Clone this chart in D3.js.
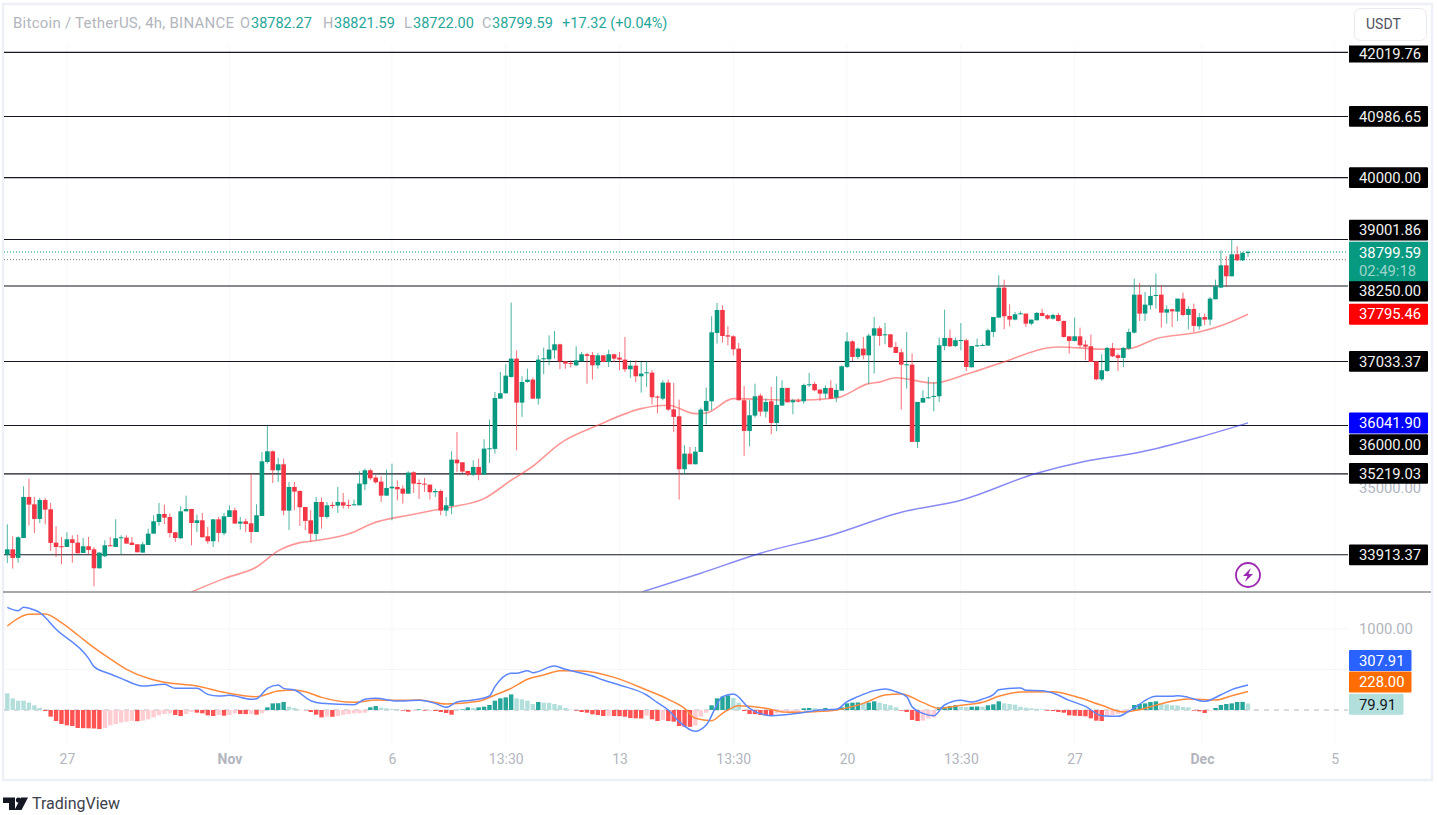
<!DOCTYPE html>
<html><head><meta charset="utf-8">
<script src="https://cdnjs.cloudflare.com/ajax/libs/d3/7.8.5/d3.min.js"></script>
<style>html,body{margin:0;padding:0;background:#fff;overflow:hidden}svg{display:block;font-family:Roboto,"Liberation Sans",sans-serif}</style>
</head><body><svg id="c" width="1438" height="815"></svg>
<script>
const opens=[33916,34002,33863,34185,34847,34728,34492,34798,34648,34110,
34051,34040,34164,34110,33943,34051,34002,33696,33890,34067,
34040,34180,34191,34110,34083,33949,34072,34255,34443,34572,
34524,34277,34180,34615,34653,34427,34470,34212,34132,34486,
34261,34524,34632,34417,34454,34422,34282,34540,35411,35583,
35277,35374,34626,35008,34943,34685,34470,34250,34766,34524,
34718,34707,34761,34718,34712,34712,35051,35277,35159,35094,
34868,34986,35008,34981,34900,35245,35073,35062,35046,34922,
34943,34626,34701,35449,35406,35267,35208,35331,35208,35622,
35622,36433,36520,36783,37079,36369,36702,36740,36433,37073,
37068,37213,37310,37036,37009,36971,37036,37149,37138,36971,
37132,37025,37149,37095,37063,36907,36966,36794,36848,36853,
36466,36433,36692,36261,36148,35294,35546,35374,35573,36235,
36390,37493,37864,37455,37439,37240,36407,35912,36159,36482,
36224,36390,36041,36321,36606,36374,36401,36390,36654,36670,
36579,36514,36606,36450,36563,36944,37358,37106,37240,37132,
37450,37568,37460,37471,37267,37181,36977,36982,35735,36369,
36439,36460,36471,37283,37412,37283,37370,37375,36939,37278,
37289,37289,37509,37740,38224,37767,37708,37799,37805,37643,
37697,37816,37778,37724,37783,37686,37439,37364,37439,37305,
37278,37036,36745,36880,37246,37133,37090,37240,37498,38111,
37805,37939,38095,38111,37821,37875,37837,38047,37783,37880,
37600,37751,37708,38036,38224,38584,38407,38762,38665,38782.27];
const closes=[34002,33863,34196,34847,34723,34492,34798,34642,34105,34040,
34040,34164,34105,33938,34051,33992,33696,33949,34067,34051,
34180,34196,34094,34072,33954,34083,34255,34454,34572,34513,
34266,34185,34615,34653,34427,34470,34196,34132,34486,34266,
34535,34632,34417,34449,34411,34282,34551,35422,35583,35277,
35374,34626,35008,34933,34680,34460,34255,34766,34524,34712,
34701,34766,34707,34707,34728,35062,35277,35148,35083,34868,
34992,35013,34970,34900,35239,35062,35056,35051,34922,34943,
34626,34712,35449,35390,35256,35208,35331,35208,35627,35632,
36444,36520,36804,37079,36369,36702,36740,36433,37063,37084,
37224,37310,37036,36998,36993,37052,37149,37122,36971,37132,
37025,37149,37079,37063,36907,36966,36794,36837,36858,36455,
36450,36692,36256,36138,35294,35546,35374,35579,36256,36396,
37503,37864,37444,37434,37229,36407,35912,36165,36471,36224,
36380,36041,36331,36606,36374,36407,36385,36654,36665,36568,
36514,36606,36433,36573,36955,37358,37106,37240,37132,37450,
37568,37444,37471,37262,37170,36982,36987,35735,36380,36444,
36455,36477,37294,37412,37278,37375,37380,36944,37283,37294,
37299,37536,37751,38224,37762,37708,37794,37810,37643,37708,
37816,37767,37724,37783,37686,37428,37364,37439,37294,37272,
37025,36745,36891,37251,37116,37090,37251,37509,38111,37805,
37950,38090,38106,37821,37875,37842,38047,37783,37880,37606,
37746,37708,38047,38246,38584,38407,38762,38665,38783,38799.59];
const highs=[34406,34212,34212,35019,35142,34847,34831,34831,34750,34373,
34201,34277,34228,34239,34185,34201,34040,33949,34148,34201,
34486,34228,34228,34201,34083,34121,34336,34551,34750,34723,
34578,34277,34696,34868,34653,34562,34589,34363,34486,34524,
34589,34712,34675,34524,34497,35223,34728,35573,36003,35599,
35481,35465,35089,35089,34954,34685,34632,34847,34836,34766,
34766,35008,34911,34804,34804,35261,35304,35304,35196,35180,
35288,35384,35116,35035,35261,35261,35132,35153,35046,34981,
34965,34847,35583,35895,35406,35267,35439,35466,35777,36095,
36541,36864,36987,37982,37213,36794,36917,36772,37132,37256,
37455,37525,37321,37041,37052,37278,37186,37170,37186,37170,
37132,37224,37159,37186,37428,37052,37052,37025,37036,36891,
36487,36729,36740,36686,36417,35681,35654,35654,36288,36611,
37762,37977,37939,37600,37455,37331,36638,36407,36675,36514,
36433,36622,36794,36729,36606,36433,36433,36675,36848,36702,
36579,36649,36729,36675,36971,37503,37374,37256,37428,37482,
37751,37600,37654,37471,37347,37240,37509,37160,36380,36568,
36783,36702,37418,37869,37547,37418,37654,37401,37283,37401,
37321,37563,37751,38423,38353,37955,37832,37842,37805,37708,
37832,37885,37794,37805,37816,37697,37439,37740,37579,37375,
37466,37041,37149,37267,37332,37160,37267,37563,38369,38299,
38154,38246,38450,38262,37939,37885,38047,38144,37923,37966,
37816,37805,38074,38353,38826,38730,38998,38891,38800,38821.59];
const lows=[33782,33691,33787,34185,34390,34266,34427,34406,33976,33879,
33761,34040,33787,33938,33943,33922,33406,33691,33879,34051,
34040,33916,34094,34072,33954,33943,34072,34255,34384,34406,
34191,34121,34169,34615,34067,34282,34196,34094,34040,34121,
34228,34524,34417,34320,34282,34105,34282,34540,35384,35073,
35089,34551,34314,34632,34379,34309,34121,34148,34336,34497,
34658,34589,34658,34658,34707,34712,34954,35116,35062,34766,
34868,34470,34793,34739,34900,34911,34814,34927,34804,34847,
34551,34535,34567,35250,35234,35181,35181,35116,35208,35396,
35546,36433,36514,36772,35600,36138,36690,36433,36337,36826,
36971,37079,36907,36917,36934,36955,37036,36675,36740,36917,
37025,36944,37025,36891,36864,36767,36702,36530,36622,36337,
36192,36407,36235,35896,34804,35213,35374,35374,35573,36014,
36245,37321,37337,37294,37132,36407,35509,35665,36127,36148,
36127,35858,35907,36321,36374,36181,36374,36353,36622,36552,
36396,36433,36433,36380,36563,36928,37041,37068,37068,36675,
36837,37288,37310,37251,37170,36256,36595,35735,35638,36369,
36434,36229,36380,37213,37267,37267,37213,36880,36934,37267,
37289,37289,37428,37740,37552,37600,37697,37794,37590,37617,
37697,37762,37708,37708,37676,37418,37160,37358,37256,37052,
37025,36729,36718,36864,37106,36880,36944,37224,37482,37686,
37686,37869,37885,37579,37643,37590,37686,37762,37552,37509,
37547,37617,37617,38036,38224,38235,38407,38654,38654,38722];

const maRedIdx=[34,40,46,50,54,56,64,67,75,78,82,88,93,97,102,109,117,122,127,129,134,145,153,159,161,164,171,177,183,194,203,207,212,220,225,229];
const maRedVal=[33314,33529,33717,33976,34110,34132,34282,34406,34567,34621,34686,34820,35116,35342,35708,36003,36272,36326,36192,36202,36433,36407,36444,36675,36700,36770,36686,36826,36998,37267,37229,37240,37401,37509,37643,37795.46];
const maBlueIdx=[117,128,139,152,165,176,190,199,209,220,229];
const maBlueVal=[33310,33616,33939,34229,34600,34794,35229,35423,35568,35810,36041.9];

const levels=[42019.76,40986.65,40000,39001.86,38250,37033.37,36000,35219.03,33913.37];
const lastPrice=38799.59, prePrice=38676, timer="02:49:18";
const priceTicks=[35000];

const histVal=[206,144,115,115,91,58,25,-12,-82,-136,-173,-189,-198,-222,-224,-226,-228,-235,-222,-189,-173,-156,-144,-134,-138,-132,-115,-91,-66,-49,-41,-62,-74,-49,-25,-33,-41,-66,-74,-62,-70,-62,-41,-49,-51,-49,-58,-41,33,82,84,99,41,25,4,-2,-25,-58,-91,-80,-84,-74,-60,-50,-43,-41,-33,33,49,29,21,12,8,-8,-21,-8,8,-8,-8,-12,-25,-37,-58,-4,8,33,25,33,
41,62,115,144,156,193,144,132,115,74,99,91,89,74,58,25,4,-8,-25,-33,-53,-62,-74,-72,-74,-76,-82,-99,-103,-105,-70,-115,-136,-123,-136,-144,-198,-206,-208,-193,-82,-33,58,144,165,181,148,91,-12,-49,-51,-62,-66,-74,-41,-37,-33,-29,-25,21,25,23,16,25,16,12,33,82,91,93,82,91,107,91,74,58,33,-8,-25,-123,-136,-132,-103,-91,33,35,49,58,
41,37,41,43,41,58,70,107,82,74,66,41,29,21,16,8,-8,-12,-25,-33,-66,-70,-74,-78,-103,-132,-136,-70,-62,-49,-33,-16,62,74,82,99,107,74,70,58,56,37,33,-8,-16,-37,-8,25,62,74,82,99,100,79.91];
const macdIdx=[0,2,3,5,6,9,15,16,19,21,25,29,31,35,37,39,41,45,46,48,50,51,53,56,58,64,66,68,72,76,79,81,83,86,89,90,93,94,96,97,101,103,108,110,113,118,120,122,124,127,129,132,134,137,141,146,150,153,155,157,160,162,164,166,167,169,171,173,176,178,180,182,183,187,188,191,193,196,199,202,205,207,212,215,216,218,221,224,226,229];
const macdVal=[1267,1226,1267,1235,1202,996,638,535,444,391,296,317,267,267,193,173,181,132,140,267,309,267,247,115,82,66,132,144,111,119,82,33,99,123,173,288,453,453,486,461,543,502,420,370,309,185,91,0,-144,-263,-185,165,198,21,-70,-41,0,8,103,165,239,259,226,165,41,-41,-70,62,119,99,136,189,251,272,243,239,210,119,45,-70,-78,-16,169,169,177,156,107,189,251,307.91];
const signalIdx=[0,2,4,7,10,13,16,19,22,26,29,35,40,46,50,53,55,58,64,68,72,76,81,87,90,93,96,99,102,106,112,118,122,125,127,130,132,135,140,144,149,153,158,162,165,169,172,176,180,183,187,193,197,202,206,209,213,218,223,226,229];
const signalVal=[1037,1132,1181,1185,1078,926,770,630,502,391,342,296,218,165,235,247,226,156,95,123,119,123,74,107,185,267,379,432,486,481,403,247,132,21,-103,-132,-41,53,21,-29,-21,0,82,185,198,91,21,58,95,169,222,226,169,58,-25,4,78,136,123,177,228];
const macdTicks=[1000];
const macdGrid=[1000,500];
const macdLast=307.91, signalLast=228, histLast=79.91;

const timeIdx=[11,41,71,92,113,134,155,176,197,220.5,245];
const timeLabels=["27","Nov","6","13:30","13","13:30","20","13:30","27","Dec","5"];
const timeBold=["Nov","Dec"];

const upCol="#089981",dnCol="#f23645";
const svg=d3.select("#c");
const n=opens.length;
const x=d3.scaleLinear().domain([0,n-1]).range([7.3,1248]);
const y=d3.scaleLinear().domain([42019.76,33913.37]).range([52.4,554.8]);
const yM=d3.scaleLinear().domain([1000,0]).range([629,710]);

svg.append("rect").attr("x",3).attr("y",4).attr("width",1429).attr("height",776).attr("fill","#fff").attr("stroke","#eef0f7").attr("stroke-width",2.5);

const gridV=svg.append("g").attr("stroke","#f7f8fb").attr("stroke-width",1);
gridV.selectAll("line").data(timeIdx).join("line").attr("x1",d=>x(d)).attr("x2",d=>x(d)).attr("y1",44).attr("y2",745);
svg.append("g").attr("stroke","#f5f6fa").selectAll("line").data(macdGrid).join("line").attr("x1",4).attr("x2",1348).attr("y1",d=>yM(d)).attr("y2",d=>yM(d));

svg.append("clipPath").attr("id","pane").append("rect").attr("x",4).attr("y",44).attr("width",1344).attr("height",548);

const axP=d3.axisRight(y).tickValues(priceTicks).tickSize(0).tickPadding(0).tickFormat(d3.format(".2f"));
const gP=svg.append("g").attr("transform","translate(1359,0)").call(axP);
const axM=d3.axisRight(yM).tickValues(macdTicks).tickSize(0).tickPadding(0).tickFormat(d3.format(".2f"));
const gM=svg.append("g").attr("transform","translate(1359,0)").call(axM);
[gP,gM].forEach(g=>{g.select(".domain").remove();g.selectAll("text").attr("fill","#b2b5be").attr("font-size",14.8).attr("font-family","Roboto");});
const axT=d3.axisBottom(x).tickValues(timeIdx).tickSize(0).tickPadding(0).tickFormat((d,i)=>timeLabels[i]);
const gT=svg.append("g").attr("transform","translate(0,754)").call(axT);
gT.select(".domain").remove();
gT.selectAll("text").attr("fill","#b2b5be").attr("font-size",14).attr("font-family","Roboto").attr("font-weight",(d,i)=>timeBold.includes(timeLabels[i])?700:400);

const pane=svg.append("g").attr("clip-path","url(#pane)");
pane.append("g").selectAll("line").data(levels).join("line").attr("x1",4).attr("x2",1349).attr("y1",d=>y(d)).attr("y2",d=>y(d)).attr("stroke","#131722").attr("stroke-width",1.1);
[[lastPrice,"#089981"],[prePrice,"#787b86"]].forEach(([p,c])=>pane.append("line").attr("x1",4).attr("x2",1349).attr("y1",y(p)).attr("y2",y(p)).attr("stroke",c).attr("stroke-width",1).attr("stroke-dasharray","1 2"));

const line=(sc,idx,vals)=>d3.line().x(i=>x(idx[i])).y(i=>sc(vals[i])).curve(d3.curveMonotoneX)(d3.range(idx.length));
pane.append("path").attr("d",line(y,maRedIdx,maRedVal)).attr("fill","none").attr("stroke","#ff5252").attr("stroke-opacity",.6).attr("stroke-width",1.6);
pane.append("path").attr("d",line(y,maBlueIdx,maBlueVal)).attr("fill","none").attr("stroke","#3a3af0").attr("stroke-opacity",.6).attr("stroke-width",1.5);

const col=i=>closes[i]>=opens[i]?upCol:dnCol;
pane.append("g").selectAll("line").data(d3.range(n)).join("line")
 .attr("x1",i=>x(i)).attr("x2",i=>x(i)).attr("y1",i=>y(highs[i])).attr("y2",i=>y(lows[i]))
 .attr("stroke",col).attr("stroke-width",1).attr("stroke-opacity",.72);
pane.append("g").selectAll("rect").data(d3.range(n)).join("rect")
 .attr("x",i=>x(i)-2.3).attr("width",4.6)
 .attr("y",i=>y(Math.max(opens[i],closes[i])))
 .attr("height",i=>Math.max(1,Math.abs(y(opens[i])-y(closes[i]))))
 .attr("fill",col);

svg.append("line").attr("x1",3).attr("x2",1431).attr("y1",592).attr("y2",592).attr("stroke","#8b8d92").attr("stroke-width",1.4);

svg.append("line").attr("x1",4).attr("x2",1348).attr("y1",yM(0)).attr("y2",yM(0)).attr("stroke","#b2b5be").attr("stroke-dasharray","5 5");
const hCol=i=>{const h=histVal[i],p=i?histVal[i-1]:h;return h>=0?(h>p?"#26a69a":"#b2dfdb"):(h<p?"#ff5252":"#ffcdd2");};
svg.append("g").selectAll("rect").data(d3.range(histVal.length)).join("rect")
 .attr("x",i=>x(i)-2.2).attr("width",4.4)
 .attr("y",i=>Math.min(yM(0),yM(histVal[i])))
 .attr("height",i=>Math.abs(yM(histVal[i])-yM(0)))
 .attr("fill",hCol);
svg.append("path").attr("d",line(yM,signalIdx,signalVal)).attr("fill","none").attr("stroke","#ff8a3c").attr("stroke-width",1.5);
svg.append("path").attr("d",line(yM,macdIdx,macdVal)).attr("fill","none").attr("stroke","#5b86ff").attr("stroke-width",1.5);

function box(cy,h,w,fill,txt,col){
 svg.append("rect").attr("x",1349).attr("y",cy-h/2).attr("width",w).attr("height",h).attr("fill",fill).attr("rx",1);
 svg.append("text").attr("x",1359).attr("y",cy+5.2).attr("font-size",14.8).attr("fill",col).text(txt);
}
const nudge={"39001.86":-9.4,"38250":5,"36000":19.2,"35219.03":-.5};
levels.forEach(l=>{
 const cy=y(l)+(nudge[String(l)]||0);
 if(l===42019.76){
  svg.append("rect").attr("x",1349).attr("y",45.5).attr("width",79).attr("height",17).attr("fill","#000");
  svg.append("text").attr("x",1359).attr("y",59).attr("font-size",14.8).attr("fill","#f2f2f2").text(d3.format(".2f")(l));
 } else box(cy,20.8,79,"#000",d3.format(".2f")(l),"#f2f2f2");
});
box(y(37795.46),21,79,"#ff0000","37795.46","#fff");
box(y(36041.9),21,79,"#0000ff","36041.90","#fff");
svg.append("rect").attr("x",1349).attr("y",241.7).attr("width",79).attr("height",39.5).attr("fill",upCol);
svg.append("text").attr("x",1359).attr("y",258).attr("font-size",14.8).attr("fill","#fff").text(d3.format(".2f")(lastPrice));
svg.append("text").attr("x",1359).attr("y",275.5).attr("font-size",14.8).attr("fill","#fff").attr("fill-opacity",.6).text(timer);

box(yM(macdLast)-24.5,21,62.5,"#2962ff",d3.format(".2f")(macdLast),"#fff");
box(yM(signalLast)-9.5,21,62.5,"#ff6d00",d3.format(".2f")(signalLast),"#fff");
box(yM(histLast)+.8,21,54.5,"#b2dfdb",d3.format(".2f")(histLast),"#131722");

const hdr=svg.append("g").attr("font-size",14.5);
const gray="#b2b5be",grn="#26a69a";
const hp=[[240,"O",gray],[251,"38782.27",grn],[323,"H",gray],[334,"38821.59",grn],[404,"L",gray],[413,"38722.00",grn],[482,"C",gray],[492,"38799.59",grn],[562,"+17.32 (+0.04%)",grn]];
hdr.append("text").attr("x",13).attr("y",28).attr("fill",gray).attr("font-size",15).attr("textLength",221).text("Bitcoin / TetherUS, 4h, BINANCE");
hp.forEach(([a,t,c])=>hdr.append("text").attr("x",a).attr("y",28).attr("fill",c).text(t));

svg.append("rect").attr("x",1354.5).attr("y",8.5).attr("width",72).attr("height",32).attr("rx",6).attr("fill","#fff").attr("stroke","#e8eaf0");
svg.append("text").attr("x",1366).attr("y",29).attr("font-size",14).attr("fill","#50535e").text("USDT");

const ic=svg.append("g").attr("transform","translate(1248,575)");
ic.append("circle").attr("r",12).attr("fill","#fff").attr("stroke","#9c27b0").attr("stroke-width",1.8);
ic.append("path").attr("d","M3,-7 L-5,1 L-0.5,1 L-3,7 L5,-1 L0.5,-1 Z").attr("fill","#9c27b0");

const lg=svg.append("g").attr("fill","#131722");
lg.append("path").attr("d","M3,797.5 H15 V810 H9 V803 H3 Z");
lg.append("circle").attr("cx",18.5).attr("cy",800).attr("r",2.6);
lg.append("path").attr("d","M21,797.5 H28 L21.5,810 H14.5 Z");
svg.append("text").attr("x",32).attr("y",809).attr("font-size",16).attr("fill","#3c3f4a").text("TradingView");
</script></body></html>
